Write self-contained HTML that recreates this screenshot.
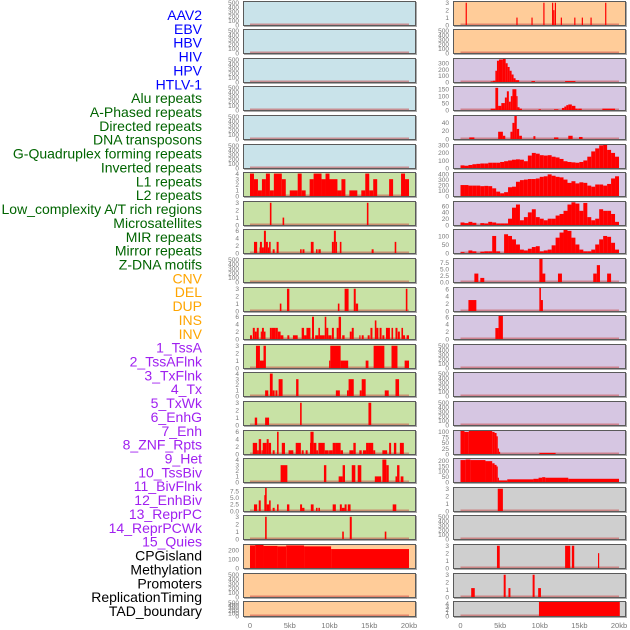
<!DOCTYPE html>
<html><head><meta charset="utf-8">
<style>
html,body{margin:0;padding:0;background:#fff;}
svg{display:block;font-family:"Liberation Sans",sans-serif;}
</style></head>
<body>
<svg id="chart" width="630" height="630" viewBox="0 0 630 630" xmlns="http://www.w3.org/2000/svg"></svg>
<script>
// ---------- labels ----------
const labelTexts = ["AAV2","EBV","HBV","HIV","HPV","HTLV-1","Alu repeats","A-Phased repeats","Directed repeats","DNA transposons","G-Quadruplex forming repeats","Inverted repeats","L1 repeats","L2 repeats","Low_complexity A/T rich regions","Microsatellites","MIR repeats","Mirror repeats","Z-DNA motifs","CNV","DEL","DUP","INS","INV","1_TssA","2_TssAFlnk","3_TxFlnk","4_Tx","5_TxWk","6_EnhG","7_Enh","8_ZNF_Rpts","9_Het","10_TssBiv","11_BivFlnk","12_EnhBiv","13_ReprPC","14_ReprPCWk","15_Quies","CPGisland","Methylation","Promoters","ReplicationTiming","TAD_boundary"];
const labelGroups = [0,0,0,0,0,0,1,1,1,1,1,1,1,1,1,1,1,1,1,2,2,2,2,2,3,3,3,3,3,3,3,3,3,3,3,3,3,3,3,4,4,4,4,4];
const groupColors = ["#0000ff","#006400","#ffa500","#a020f0","#000000"];

// ---------- panel styling ----------
const bgLeft = ["#c9e3ea","#c9e3ea","#c9e3ea","#c9e3ea","#c9e3ea","#c9e3ea","#c8e2a5","#c8e2a5","#c8e2a5","#c8e2a5","#c8e2a5","#c8e2a5","#c8e2a5","#c8e2a5","#c8e2a5","#c8e2a5","#c8e2a5","#c8e2a5","#c8e2a5","#ffcc99","#ffcc99","#ffcc99"];
const bgRight = ["#ffcc99","#ffcc99","#d6c6e2","#d6c6e2","#d6c6e2","#d6c6e2","#d6c6e2","#d6c6e2","#d6c6e2","#d6c6e2","#d6c6e2","#d6c6e2","#d6c6e2","#d6c6e2","#d6c6e2","#d6c6e2","#d6c6e2","#cfcfcf","#cfcfcf","#cfcfcf","#cfcfcf","#cfcfcf"];

// ---------- y limits & ticks ----------
const E = [0,100,200,300,400,500];
const ymaxLeft = [520,520,520,520,520,520,4.1,3.1,6.2,520,3.1,6.2,3.1,4.1,3.1,6.2,4.1,8.7,3.1,255,520,520];
const ticksLeft = [E,E,E,E,E,E,[0,1,2,3,4],[0,1,2,3],[0,2,4,6],E,[0,1,2,3],[0,2,4,6],[0,1,2,3],[0,1,2,3,4],[0,1,2,3],[0,2,4,6],[0,1,2,3,4],[0,2.5,5,7.5],[0,1,2,3],[0,100,200],E,E];
const ymaxRight = [3.1,520,368,166,57,305,420,73,135,9,6.3,6.3,520,520,520,104,215,3.1,520,3.1,3.1,4.5];
const ticksRight = [[0,1,2,3],E,[0,100,200,300],[0,50,100,150],[0,20,40],[0,100,200,300],[0,100,200,300,400],[0,20,40,60],[0,50,100],[0,2.5,5,7.5],[0,2,4,6],[0,2,4,6],E,E,E,[0,25,50,75,100],[0,50,100,150,200],[0,1,2,3],E,[0,1,2,3],[0,1,2,3],[0,1,2,3,4]];
const decimalTicks = {"L17":1,"R9":1};

// ---------- data: segments [startKb, endKb, value] ----------
const segL6 = [[0,0.5,4],[0.5,1,3],[1,1.5,1],[1.5,2,3],[2,2.5,4],[2.5,3,1],[3,4,4],[4,4.5,3],[5,6,1],[6,6.5,4],[6.5,7,1],[7.5,8,3],[8,9,4],[9,9.5,3],[9.5,10,4],[10,11,3],[11,11.5,1],[11.5,12,3],[12.5,13.5,1],[14,14.5,1],[14.5,15,4],[15,15.5,1],[15.5,16,3],[17.5,18,3],[19,19.5,4],[19.5,20,3]];
const segL7 = [[2.5,2.7,3],[4.1,4.3,1],[14.7,14.9,3]];
const segL8 = [[0.5,0.9,3],[1.2,1.4,1.5],[1.25,1.5,3],[1.5,1.75,1.5],[1.75,2.0,6],[2.0,2.25,3],[2.25,2.4,1.5],[2.4,2.6,3],[2.85,3.1,1],[3.35,3.6,3],[6.3,6.5,1],[6.6,6.85,1],[7.65,8.0,3],[8.3,8.5,1],[8.6,8.9,1],[10.3,10.55,3],[10.55,10.8,6],[10.8,10.9,3],[11.3,11.5,3],[15.3,15.55,1],[18.2,18.4,3]];
const segL9 = [];
const segL10 = [[3.75,3.95,1],[4.65,4.95,3],[11.05,11.25,1],[11.9,12.4,3],[13.05,13.3,3],[13.3,13.6,1],[19.6,19.8,3]];
const segL11 = [[0,0.25,1],[0.35,0.6,3],[0.6,0.85,2],[0.85,1.1,3],[1.35,1.5,2],[1.5,1.75,3],[1.75,1.95,2],[2.5,2.75,3],[2.75,3.25,3],[3.25,3.5,3],[3.5,3.85,2],[3.85,4.2,1],[4.7,4.95,1],[5.4,6.0,1],[6.5,6.8,3],[6.8,7.1,1],[7.1,7.6,3],[7.8,8.05,6],[8.2,8.6,1],[8.6,8.8,3],[8.8,9.4,1],[9.4,9.6,6],[9.6,9.85,3],[9.85,10.25,1],[10.3,10.55,3],[10.9,11.15,3],[11.15,11.45,6],[11.6,11.9,1],[12.55,12.8,2],[12.8,13.05,3],[13.75,13.9,1],[14.05,14.3,1],[14.8,15.05,1],[15.15,15.4,3],[15.7,15.9,5],[15.9,16.15,3],[16.3,16.55,3],[16.65,16.9,1],[17.1,17.6,3],[17.8,18.0,3],[18.3,18.55,3],[18.6,18.85,2],[19.05,19.25,3],[19.25,19.5,1],[19.7,20,1]];
const segL12 = [[0.75,1.25,3],[1.25,1.7,1],[1.7,2.0,3],[9.95,10.1,1],[10.1,11.4,3],[11.4,12.35,1],[14.55,14.9,1],[15.55,16.9,3],[17.8,18.55,3],[19.45,20,1]];
const segL13 = [[1.9,2.3,1],[2.5,2.85,4],[2.85,3.1,1],[3.2,3.45,1],[3.6,4.1,3],[5.8,6.1,3],[10.8,11.3,1],[12.2,12.4,1],[12.4,13.05,3],[13.8,14.05,1],[14.05,14.55,3],[16.95,17.45,1],[18.3,18.75,3]];
const segL14 = [[0.6,0.9,1],[1.9,2.4,1],[6.3,6.5,3],[14.9,15.25,3]];
const segL15 = [[0.35,0.9,3],[0.9,1.1,1],[1.1,1.4,4],[1.45,1.6,1],[1.6,2.1,3],[2.1,2.35,4],[2.35,2.65,3],[2.85,3.1,1],[3.4,3.6,6],[4.0,4.4,3],[4.85,5.45,1],[5.75,6.4,3],[6.5,6.75,1],[7.0,7.25,1],[7.55,7.6,3],[7.6,8.0,6],[8.0,8.35,3],[8.35,8.55,1],[8.6,9.4,3],[9.4,9.9,1],[9.95,10.4,1],[10.4,10.7,3],[10.7,11.4,3],[11.4,11.7,1],[12.5,13.0,1],[13.0,13.3,3],[13.75,14.05,1],[14.2,14.6,1],[14.6,14.9,3],[14.9,15.5,3],[15.5,15.75,1],[16.65,17.25,1],[17.5,17.75,3],[18.1,18.4,3],[18.85,19.35,3]];
const segL16 = [[3.85,4.7,3],[9.3,9.6,3],[11.15,11.65,1],[11.65,11.95,3],[12.8,13.25,3],[13.55,14.0,3],[15.7,16.5,1],[16.65,17.15,4],[17.15,17.45,3],[18.3,18.5,1],[18.5,18.8,3],[18.95,19.3,1]];
const segL17 = [[0.5,0.9,2.5],[1.1,1.35,4],[1.8,1.9,6],[1.9,2.1,8.7],[2.1,2.4,2.5],[2.4,2.6,4],[2.85,3.1,1.2],[3.4,3.6,2.5],[4.65,4.95,2.5],[6.3,6.55,2.5],[6.55,6.85,1.2],[7.65,8.0,2.5],[8.3,8.5,1.2],[8.6,8.8,1.2],[10.4,10.8,2.5],[11.3,11.55,2.5],[11.55,11.9,1.2],[11.9,12.15,2.5],[12.3,12.65,2.5],[17.95,18.4,2.5]];
const segL18 = [[1.9,2.1,3],[11.6,11.8,1],[12.55,12.8,3],[16.95,17.15,1]];
const segL19 = [[0,0.65,250],[0.65,1.7,255],[1.7,3.45,245],[3.45,4.55,240],[4.55,6.8,250],[6.8,10.2,240],[10.2,20,210]];

const segR0 = [[0.65,0.8,3],[7.05,7.2,1],[8.95,9.1,1],[10.45,10.6,3],[11.55,11.7,3],[11.7,11.85,2],[11.9,12.05,3],[12.65,12.8,1],[14.35,14.5,1],[15.3,15.45,1],[16.4,16.55,1],[18.25,18.4,3]];
const segR2 = [[3.8,4.1,10],[4.1,4.4,20],[4.4,4.6,180],[4.6,4.85,340],[4.85,5.35,360],[5.35,5.7,370],[5.7,5.95,300],[5.95,6.2,240],[6.2,6.45,180],[6.45,6.7,120],[6.7,6.95,60],[6.95,7.4,30],[8.95,9.4,15],[13.2,14.5,15]];
const segR3 = [[3.8,4.4,10],[4.4,4.75,160],[4.75,5.15,30],[5.15,5.6,50],[5.6,5.85,90],[5.85,6.1,135],[6.1,6.35,60],[6.35,6.55,100],[6.55,7.05,150],[7.05,7.2,100],[7.2,7.45,20],[7.45,7.75,10],[9.85,10.15,5],[11.8,12.35,5],[12.8,13.1,15],[13.1,13.35,25],[13.35,13.6,35],[13.6,14.05,40],[14.05,14.5,30],[14.5,14.8,10],[14.85,15.3,10],[17.9,19.5,10]];
const segR4 = [[1.1,1.75,4],[4.75,5.35,18],[5.35,5.65,8],[6.3,6.55,18],[6.55,6.8,40],[6.8,7.1,57],[7.1,7.4,25],[7.4,7.75,8],[9.2,9.45,7],[11.8,12.35,4],[13.6,14.15,8],[14.95,15.4,5]];
const binsR5 = [35,30,40,50,55,60,60,70,70,70,80,90,100,110,115,110,90,165,200,190,170,165,170,150,140,120,90,80,75,70,80,100,150,220,260,300,305,240,200,150];
const binsR6 = [200,200,190,190,190,180,185,180,140,80,50,70,160,170,260,290,300,310,310,320,350,360,395,370,350,340,300,240,270,230,250,240,190,170,210,210,190,220,320,360];
const binsR7 = [8,6,10,7,0,6,5,10,8,5,5,5,20,55,65,15,25,40,50,25,20,15,20,20,30,35,45,65,72,68,45,70,25,15,20,50,45,45,35,10];
const binsR8 = [5,0,15,10,0,8,10,10,100,10,0,110,100,80,50,20,15,25,35,40,10,15,20,45,90,120,135,130,90,50,20,10,10,20,50,80,100,95,60,20];
const segR9 = [[1.75,2.25,3.3],[2.5,3.0,1.6],[9.95,10.35,9],[10.35,10.7,3.3],[12.3,12.8,3.3],[16.75,17.2,3.3],[17.2,17.6,6.6],[18.5,19.0,3.3]];
const segR10 = [[1.0,2.0,3],[9.95,10.15,6.3],[10.15,10.4,3]];
const segR11 = [[4.4,4.8,3],[4.8,5.35,6.3]];
const segR15 = [[0,0.5,104],[0.5,1.05,100],[1.05,4.0,104],[4.0,4.3,100],[4.3,4.55,95],[4.55,4.7,80],[4.7,4.85,25],[4.85,4.95,10],[9.95,12.0,5]];
const segR16 = [[0,0.65,205],[0.65,1.25,210],[1.25,3.15,205],[3.15,4.0,195],[4.0,4.3,175],[4.3,4.55,160],[4.55,4.7,145],[4.7,4.85,40],[4.85,5.9,15],[5.9,9.2,25],[9.2,9.85,30],[9.85,10.3,40],[10.3,10.7,45],[10.7,13.6,40],[13.6,20,30]];
const segR17 = [[4.7,5.35,3]];
const segR19 = [[4.6,4.95,3],[13.2,13.85,3],[14.05,14.35,3],[17.35,17.45,2]];
const segR20 = [[1.35,1.8,1.2],[5.45,5.7,3],[6.05,6.3,1.2],[9.1,9.35,3],[9.8,10.15,1.2]];
const segR21 = [[9.9,20.1,4.5]];

const xTickKb = [0,5,10,15,20];
const xTickLabels = ["0","5kb","10kb","15kb","20kb"];

// ---------- build ----------
const NS = "http://www.w3.org/2000/svg";
const svg = document.getElementById("chart");
function mk(tag, attrs, parent){
  const e = document.createElementNS(NS, tag);
  for (const k in attrs) e.setAttribute(k, attrs[k]);
  (parent||svg).appendChild(e);
  return e;
}
function binsToSegs(b){ return b.map((v,i)=>[i*0.5,(i+1)*0.5,v]); }
const dataLeft = [[],[],[],[],[],[],segL6,segL7,segL8,segL9,segL10,segL11,segL12,segL13,segL14,segL15,segL16,segL17,segL18,segL19,[],[]];
const dataRight = [segR0,[],segR2,segR3,segR4,binsToSegs(binsR5),binsToSegs(binsR6),binsToSegs(binsR7),binsToSegs(binsR8),segR9,segR10,segR11,[],[],[],segR15,segR16,segR17,[],segR19,segR20,segR21];

// labels
labelTexts.forEach((t,i)=>{
  const el = mk("text",{x:202,y:20+i*13.86,"text-anchor":"end","font-size":"14",fill:groupColors[labelGroups[i]]});
  
  
  el.textContent = t;
});

function panel(col, r, bg, ymax, ticks, segs){
  const px = col===0 ? 243 : 453;
  const pw = 173;
  const x0 = col===0 ? 250 : 460.5;
  const x20 = col===0 ? 409 : 619;
  const xs = kb => x0 + (x20-x0)*kb/20;
  const top = Math.round(0.5 + 28.6*r);
  const h = r===21 ? 16 : 25;
  const yb = top + h - 1, yt = top + 1;
  const ys = v => yb - (yb-yt)*v/ymax;
  const g = mk("g",{});
  
  
  mk("rect",{x:px+1,y:top+1,width:pw,height:h,fill:"#aaa"},g);
  const bgr = mk("rect",{x:px,y:top,width:pw,height:h,fill:bg},g);
  
  
  mk("line",{x1:xs(0),x2:xs(20),y1:yb-0.5,y2:yb-0.5,stroke:"rgba(200,60,60,0.5)","stroke-width":2},g);
  segs.forEach(s=>{
    if (s[2]<=0) return;
    const b = mk("rect",{x:xs(s[0]),y:ys(s[2]),width:Math.max(1.2,xs(s[1])-xs(s[0])),height:yb-ys(s[2]),fill:"#ff0000"},g);
    
    
  });
  mk("rect",{x:px+0.5,y:top+0.5,width:pw-1,height:h-1,fill:"none",stroke:"#5a5a5a","stroke-width":1},g);
  const dec = decimalTicks[(col===0?'L':'R')+r];
  ticks.forEach(t=>{
    const tl = mk("text",{x:px-4,y:ys(t)+2.3,"text-anchor":"end","font-size":"6.5",fill:"#777"},g);
    
    
    tl.textContent = dec ? t.toFixed(1) : String(t);
  });
}
for (let r=0;r<22;r++){
  panel(0,r,bgLeft[r],ymaxLeft[r],ticksLeft[r],dataLeft[r]);
  panel(1,r,bgRight[r],ymaxRight[r],ticksRight[r],dataRight[r]);
}
// x axes
[[250,409],[460.5,619]].forEach((ends,c)=>{
  xTickKb.forEach((kb,i)=>{
    const x = ends[0]+(ends[1]-ends[0])*kb/20;
    const t = mk("text",{x:x,y:628,"text-anchor":"middle","font-size":"7.5",fill:"#777"});
    
    
    t.textContent = xTickLabels[i];
  });
});
</script>
</body></html>
